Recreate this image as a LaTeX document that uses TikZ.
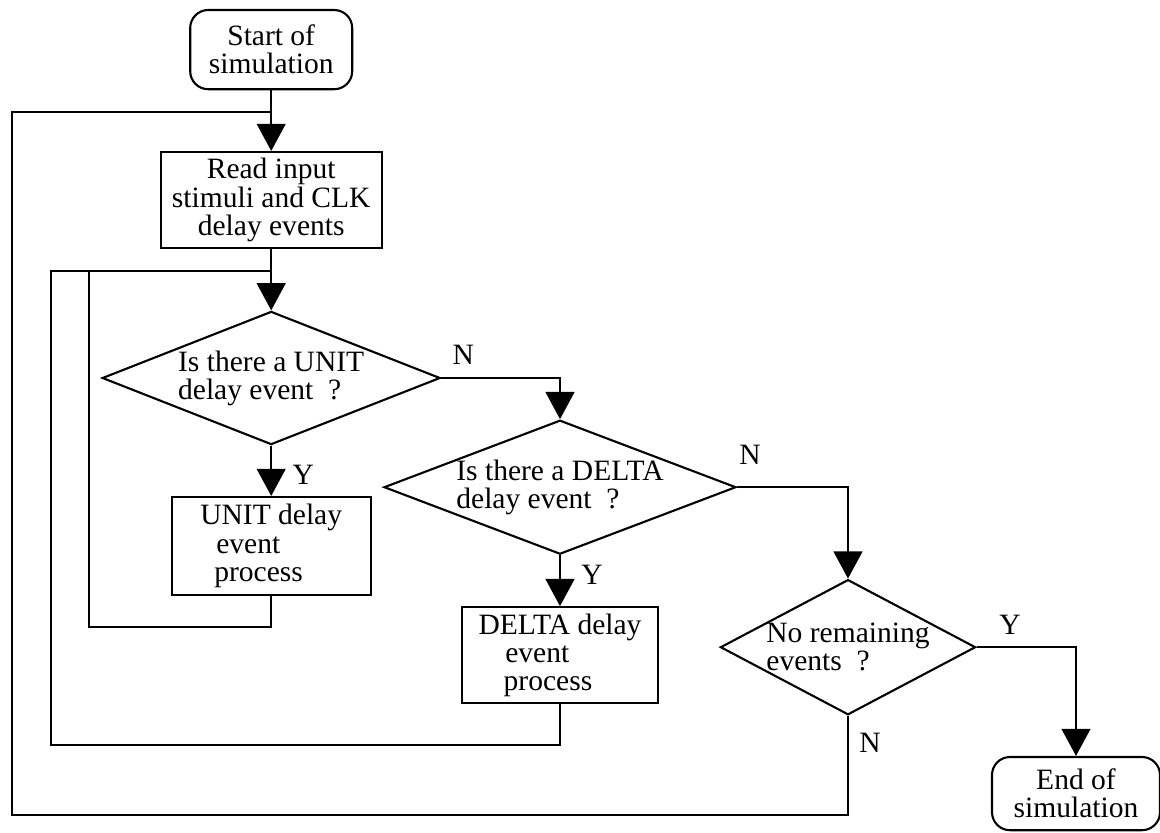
\documentclass[tikz,border=0pt]{standalone}
\usepackage{fontspec}
\setmainfont{Liberation Serif}
\usetikzlibrary{arrows.meta, shapes.geometric, positioning}

\tikzset{
  blk/.style={draw, line width=1.5pt, font=\fontsize{21}{20}\selectfont, inner sep=0.1cm},
  termbox/.style={blk, rounded corners=0.45cm, align=center},
  procbox/.style={blk, align=center},
  testbox/.style={blk, diamond, inner sep=0pt, align=left},
  flowline/.style={line width=1.5pt, -{Triangle[length=0.68cm,width=0.72cm]}},
  loopline/.style={line width=1.5pt},
  ynlabel/.style={font=\fontsize{21}{20}\selectfont}
}

\begin{document}
\begin{tikzpicture}
\useasboundingbox (0,0) rectangle (29,-20.8);

% main column
\node[termbox, minimum width=4.05cm, minimum height=1.98cm] (start) at (6.78,-1.24) {Start of\\simulation};
\node[procbox, minimum width=5.53cm, minimum height=2.4cm] (read) at (6.78,-5.0) {Read input\\stimuli and CLK\\delay events};
\node[testbox, shape aspect=2.54, minimum width=8.45cm, minimum height=3.33cm] (unitq) at (6.78,-9.45) {Is there a UNIT\\delay event~~?};
\node[procbox, align=left, minimum width=4.98cm, minimum height=2.45cm] (unitp) at (6.78,-13.65) {UNIT delay\\\hspace*{0.4cm}event\\\hspace*{0.35cm}process};

% delta column
\node[testbox, shape aspect=2.63, minimum width=8.8cm, minimum height=3.35cm] (deltaq) at (14.0,-12.18) {Is there a DELTA\\delay event~~?};
\node[procbox, align=left, minimum width=4.9cm, minimum height=2.4cm] (deltap) at (14.0,-16.38) {DELTA delay\\\hspace*{0.67cm}event\\\hspace*{0.63cm}process};

% end test
\node[testbox, shape aspect=1.89, minimum width=6.38cm, minimum height=3.38cm] (norem) at (21.2,-16.18) {No remaining\\events~~?};
\node[termbox, minimum width=4.2cm, minimum height=1.83cm] (endsim) at (26.9,-19.84) {End of\\simulation};

\coordinate (j1) at (6.78,-2.8);
\coordinate (j2) at (6.78,-6.78);

\draw[flowline] (start) -- (read);
\draw[flowline] (read) -- (unitq);
\draw[flowline] (unitq.east) -| (deltaq.north);
\draw[flowline] (unitq) -- (unitp);
\draw[flowline] (deltaq.east) -| (norem.north);
\draw[flowline] (deltaq) -- (deltap);
\draw[flowline] (norem.east) -| (endsim.north);

% loops back
\draw[loopline] (unitp.south) |- (2.23,-15.68) |- (j2);
\draw[loopline] (deltap.south) |- (1.28,-18.63) |- (j2);
\draw[loopline] (norem.south) |- (0.3,-20.38) |- (j1);

% branch labels
\node[ynlabel] (un) at (11.58,-8.88) {N};
\node[ynlabel] (uy) at (7.58,-11.88) {Y};
\node[ynlabel] (dn) at (18.75,-11.38) {N};
\node[ynlabel] (dy) at (14.8,-14.38) {Y};
\node[ynlabel] (ry) at (25.25,-15.63) {Y};
\node[ynlabel] (rn) at (21.75,-18.58) {N};

\end{tikzpicture}
\end{document}
